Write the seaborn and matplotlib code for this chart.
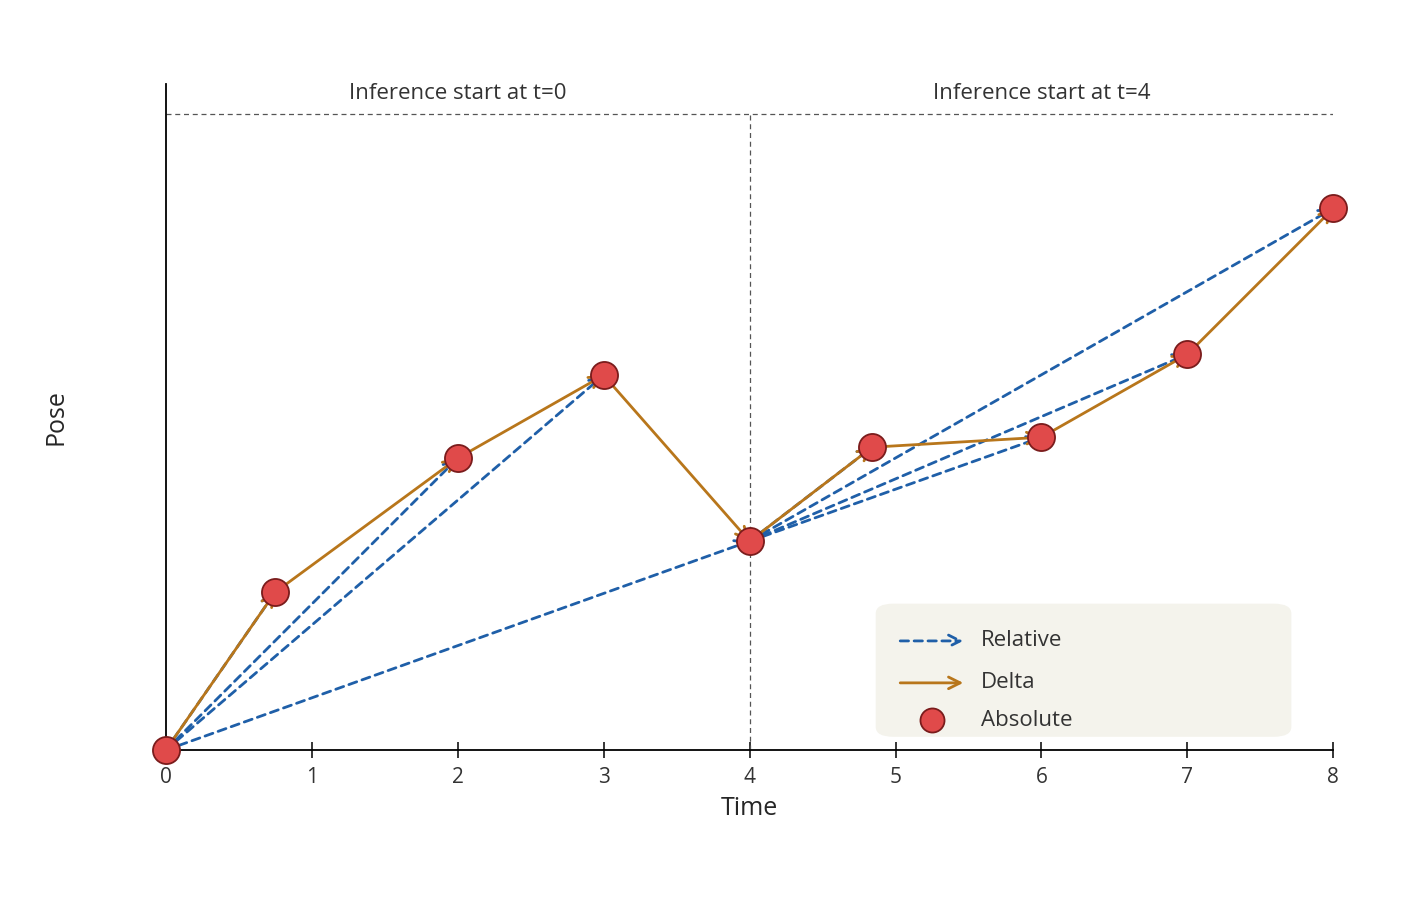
import numpy as np
import pandas as pd
import matplotlib
matplotlib.use("Agg")
import matplotlib.pyplot as plt
import seaborn as sns
from matplotlib.patches import FancyBboxPatch

# data
times = [0, 0.75, 2, 3, 4, 4.84, 6, 7, 8]
poses = [0, 1.58, 2.92, 3.75, 2.09, 3.03, 3.13, 3.96, 5.42]
starts = [0, 4]
start_labels = ["Inference start at t=0", "Inference start at t=4"]

BLUE = "#1f5fa8"
ORANGE = "#b8761b"
RED = "#e04a4a"
EDGE = "#7a1c1c"

sns.set_theme(style="white")
plt.rcParams['font.family'] = ['Open Sans', 'DejaVu Sans']

fig = plt.figure(figsize=(14.17, 9.17), dpi=100)
ax = fig.add_axes([0.117, 0.182, 0.824, 0.726])
ax.set_xlim(0, 8)
ax.set_ylim(0, 6.66)
top = 6.36

def arrow(p0, p1, color, ls, lw):
    ax.annotate("", xy=p1, xytext=p0,
                arrowprops=dict(arrowstyle="->,head_length=0.7,head_width=0.35",
                                color=color, lw=lw, linestyle=ls,
                                shrinkA=0, shrinkB=0), zorder=3)

df = pd.DataFrame({"Time": times, "Pose": poses})
pts = list(zip(times, poses))

# relative: from inference start to each point of the chunk
for i in range(1, 5):
    arrow(pts[0], pts[i], BLUE, (0, (3, 2)), 2)
for i in range(5, 9):
    arrow(pts[4], pts[i], BLUE, (0, (3, 2)), 2)
# delta: consecutive
for i in range(8):
    arrow(pts[i], pts[i + 1], ORANGE, "-", 2)

sns.scatterplot(data=df, x="Time", y="Pose", s=380, color=RED, edgecolor=EDGE,
                linewidth=1.3, zorder=5, clip_on=False, ax=ax)

ax.plot([0, 8], [top, top], ls=(0, (4, 3)), color="#555555", lw=0.9)
ax.axvline(4, ymax=top / 6.66, ls=(0, (4, 3)), color="#555555", lw=0.9)
for s, lab in zip(starts, start_labels):
    ax.text(s + 2, top + 0.1, lab, ha="center", va="bottom", fontsize=16, color="#333333")

for sp in ["top", "right"]:
    ax.spines[sp].set_visible(False)
for sp in ["left", "bottom"]:
    ax.spines[sp].set_color("black")
    ax.spines[sp].set_linewidth(1.3)
ax.set_xticks(range(9))
ax.set_yticks([])
ax.tick_params(axis="x", direction="inout", length=12, width=1.3, labelsize=15,
               labelcolor="#333333", pad=6, bottom=True)
ax.set_xlabel("Time", fontsize=18, labelpad=6)
ax.set_ylabel("Pose", fontsize=18, labelpad=70)

# legend drawn by hand to get open arrow heads
box = FancyBboxPatch((0.608, 0.02), 0.356, 0.2, boxstyle="round,pad=0,rounding_size=0.015",
                     transform=ax.transAxes, facecolor="#f4f3ec", edgecolor="none", zorder=6)
ax.add_patch(box)
rows = [0.164, 0.101, 0.045]
for y, color, ls in [(rows[0], BLUE, (0, (3, 2))), (rows[1], ORANGE, "-")]:
    ax.annotate("", xy=(0.683, y), xytext=(0.629, y), xycoords="axes fraction",
                arrowprops=dict(arrowstyle="->,head_length=0.7,head_width=0.35", color=color,
                                lw=2, linestyle=ls, shrinkA=0, shrinkB=0), zorder=7)
ax.scatter([0.656], [rows[2]], s=300, color=RED, edgecolor=EDGE, linewidth=1.3,
           transform=ax.transAxes, zorder=7, clip_on=False)
for y, lab in zip(rows, ["Relative", "Delta", "Absolute"]):
    ax.text(0.698, y, lab, transform=ax.transAxes, va="center", fontsize=16,
            color="#333333", zorder=7)

fig.savefig("out.png", dpi=100)
